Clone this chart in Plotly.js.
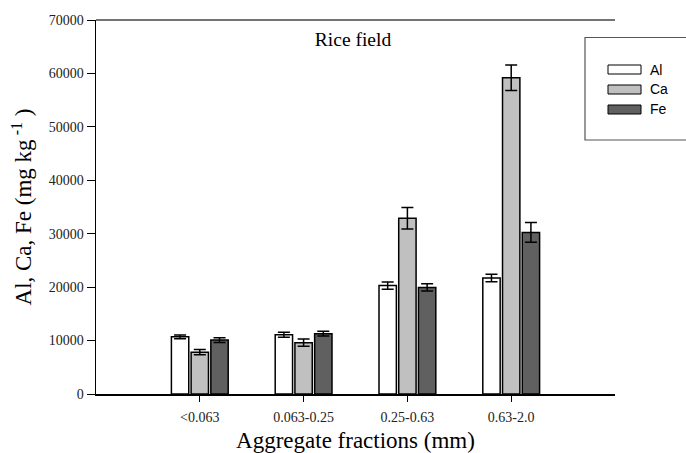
<!DOCTYPE html>
<html>
<head>
<meta charset="utf-8">
<script src="https://cdn.plot.ly/plotly-3.0.1.min.js"></script>
<style>html,body{margin:0;padding:0;background:#fff;}#chart{width:686px;height:453px;}</style>
</head>
<body>
<div id="chart"></div>
<script>
// ---- data ----
var categories = ['<0.063', '0.063-0.25', '0.25-0.63', '0.63-2.0'];
var seriesNames = ['Al', 'Ca', 'Fe'];
var alValues = [10700, 11100, 20300, 21700];
var alErrors = [350, 470, 680, 700];
var caValues = [7830, 9600, 32900, 59200];
var caErrors = [500, 680, 2000, 2400];
var feValues = [10100, 11300, 19950, 30250];
var feErrors = [450, 440, 680, 1870];
var yTickValues = [0, 10000, 20000, 30000, 40000, 50000, 60000, 70000];

// ---- styles ----
var fills = ['#ffffff', '#c0c0c0', '#606060'];
var serif = 'Liberation Serif, Times New Roman, serif';
var sans = 'Liberation Sans, Arial, sans-serif';
var W = 686, H = 453;
var M = {l: 96, r: 71, t: 20, b: 59};
var PW = W - M.l - M.r, PH = H - M.t - M.b;
function px2x(p) { return (p - M.l) / PW; }
function px2y(p) { return (H - M.b - p) / PH; }

var values = [alValues, caValues, feValues];
var errors = [alErrors, caErrors, feErrors];

var traces = seriesNames.map(function (name, i) {
  return {
    type: 'bar',
    name: name,
    x: categories,
    y: values[i],
    marker: {color: fills[i], line: {color: '#000', width: 1.5}},
    error_y: {type: 'data', array: errors[i], visible: true, color: '#000', thickness: 1.5, width: 6},
    showlegend: false,
    hoverinfo: 'x+y+name'
  };
});

// custom legend (box + swatches + labels)
var shapes = [
  {type: 'line', xref: 'paper', yref: 'paper', x0: 0, x1: 1, y0: 1, y1: 1,
   line: {color: '#444', width: 1.5}},
  {type: 'rect', xref: 'paper', yref: 'paper', x0: px2x(585), x1: px2x(700), y0: px2y(140), y1: px2y(37.5),
   line: {color: '#555', width: 1.2}, fillcolor: 'rgba(0,0,0,0)'}
];
var annotations = [];
seriesNames.forEach(function (name, i) {
  var cy = 69.5 + i * 20;
  shapes.push({type: 'rect', xref: 'paper', yref: 'paper',
    x0: px2x(608), x1: px2x(641), y0: px2y(cy + 4.5), y1: px2y(cy - 4.5),
    line: {color: '#000', width: 1}, fillcolor: fills[i]});
  annotations.push({xref: 'paper', yref: 'paper', x: px2x(648), y: px2y(cy),
    xanchor: 'left', yanchor: 'middle', showarrow: false, text: name,
    font: {family: sans, size: 14, color: '#000'}});
});

var layout = {
  width: W, height: H,
  margin: M,
  paper_bgcolor: '#fff', plot_bgcolor: '#fff',
  barmode: 'group',
  bargap: 0.43,
  bargroupgap: 0.12,
  showlegend: false,
  title: {text: 'Rice field', font: {family: serif, size: 19.5, color: '#000'},
          x: 353 / W, xanchor: 'center', y: 1 - 39 / H, yanchor: 'middle'},
  xaxis: {
    type: 'category',
    range: [-1, 4],
    showline: true, linecolor: '#000', linewidth: 1.5,
    ticks: 'outside', ticklen: 6, tickwidth: 1, tickcolor: '#000',
    ticklabelstandoff: 4,
    showgrid: false, zeroline: false,
    tickfont: {family: serif, size: 14, color: '#222'},
    title: {text: 'Aggregate fractions (mm)', font: {family: serif, size: 23, color: '#000'}, standoff: 16},
    automargin: false
  },
  yaxis: {
    range: [0, 70000],
    tickvals: yTickValues,
    ticktext: yTickValues.map(String),
    showline: true, linecolor: '#000', linewidth: 1.5,
    ticks: 'outside', ticklen: 8, tickwidth: 1, tickcolor: '#000',
    showgrid: false, zeroline: false,
    tickfont: {family: serif, size: 14, color: '#222'},
    title: {text: 'Al, Ca, Fe (mg kg<sup> -1</sup> )', font: {family: serif, size: 23, color: '#000'}, standoff: 10},
    automargin: false
  },
  shapes: shapes,
  annotations: annotations
};

Plotly.newPlot('chart', traces, layout, {staticPlot: true, displayModeBar: false});
</script>
</body>
</html>
